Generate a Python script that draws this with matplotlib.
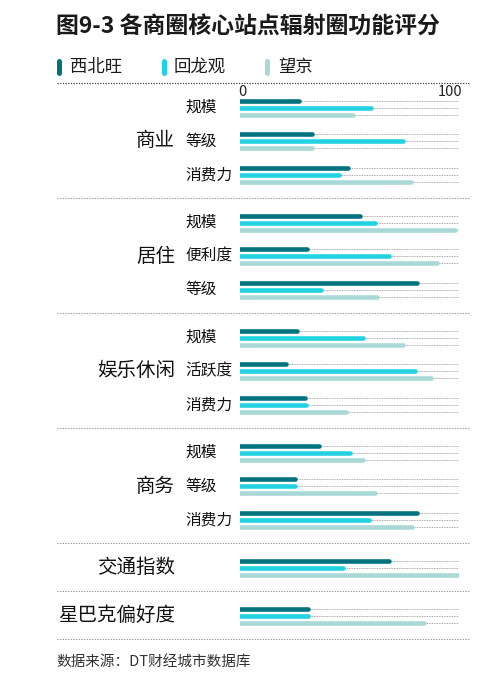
import matplotlib
matplotlib.use("Agg")
import matplotlib.pyplot as plt
from matplotlib.lines import Line2D

plt.rcParams['font.family'] = ['Noto Sans CJK SC', 'DejaVu Sans']

# ---------------- data ----------------
title = "图9-3 各商圈核心站点辐射圈功能评分"
source = "数据来源：DT财经城市数据库"
series_names = ["西北旺", "回龙观", "望京"]
colors = ["#00737F", "#22D2E1", "#A9D8D7"]

groups = ["商业", "居住", "娱乐休闲", "商务", "交通指数", "星巴克偏好度"]
subgroups = [["规模", "等级", "消费力"],
             ["规模", "便利度", "等级"],
             ["规模", "活跃度", "消费力"],
             ["规模", "等级", "消费力"],
             [""],
             [""]]

xibeiwang   = [27, 33, 49.5,  55, 30.5, 81,  26, 21, 29.5,  36, 25, 81,  68, 31]
huilongguan = [60, 74.5, 45,  61.5, 68, 37,  56, 80, 30,    50, 25, 59,  47, 31]
wangjing    = [51.5, 33, 78,  98, 90, 62.5,  74.5, 87, 48.5, 56, 61.5, 78.5, 99.5, 84]
series = [xibeiwang, huilongguan, wangjing]

# ---------------- layout (pixels) ----------------
W, H = 487, 686
fig = plt.figure(figsize=(W / 100, H / 100), dpi=100)

bg = fig.add_axes([0, 0, 1, 1])
bg.set_xlim(0, W)
bg.set_ylim(H, 0)
bg.axis('off')

x0_px, x100_px = 240, 459
ax = fig.add_axes([x0_px / W, 0, (x100_px - x0_px) / W, 1])
ax.set_xlim(0, 100)
ax.set_ylim(H, 0)
ax.axis('off')

top_sep = 83
first_off = 24.5
sub_step = 33.5
bar_gap = 7.0
bar_lw = 3.3  # points (~4.6 px)

# title
bg.text(56, 27, title, fontsize=16.5, fontweight='bold', color='#1a1a1a',
        ha='left', va='center')

# legend
leg_mark_x = [59, 164, 266.5]
leg_text_x = [70, 174, 278]
for c, name, mx, tx in zip(colors, series_names, leg_mark_x, leg_text_x):
    bg.add_line(Line2D([mx, mx], [61, 73], color=c, lw=3.6,
                       solid_capstyle='round'))
    bg.text(tx, 67, name, fontsize=12.5, color='#1a1a1a', ha='left',
            va='center')

def sep(y, color='#9a9a9a'):
    bg.add_line(Line2D([57, 470], [y, y], color=color, lw=0.8,
                       linestyle=(0, (1.2, 1.2))))

sep(top_sep, '#444444')

# axis tick labels
ax.text(-1.0, 92, "0", fontsize=10.5, color='#222222', ha='left',
        va='center', fontweight='light')
ax.text(101.5, 92, "100", fontsize=10.5, color='#222222', ha='right',
        va='center', fontweight='light')

idx = 0
y_start = top_sep
for g, subs in zip(groups, subgroups):
    n = len(subs)
    mids = [y_start + first_off + sub_step * k for k in range(n)]
    gmid = sum(mids) / n
    bg.text(175, gmid, g, fontsize=14, fontweight='medium', color='#111111',
            ha='right', va='center')
    for k, s in enumerate(subs):
        ym = mids[k]
        if s:
            bg.text(185, ym, s, fontsize=11.3, color='#111111', ha='left',
                    va='center')
        for j, (vals, c) in enumerate(zip(series, colors)):
            yy = ym + (j - 1) * bar_gap
            ax.hlines(yy, 0, 100, colors='#777777', lw=0.5,
                      linestyles=[(0, (1.2, 1.2))], zorder=1)
            ax.hlines(yy, 0, vals[idx], colors=c, lw=bar_lw,
                      capstyle='round', zorder=3)
        idx += 1
    y_start = y_start + 48 + sub_step * (n - 1)
    sep(y_start)

bg.text(56, 662, source, fontsize=10.5, color='#333333', ha='left',
        va='center')

fig.savefig("out.png", dpi=100)
